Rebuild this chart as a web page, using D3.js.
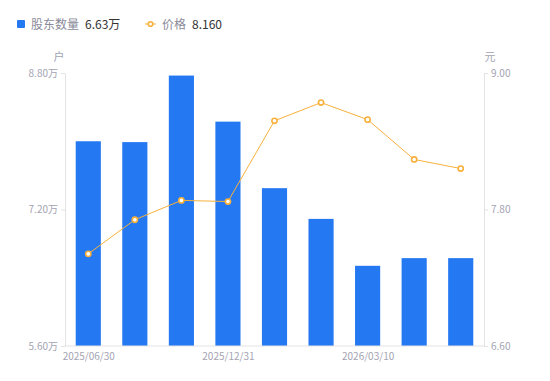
<!DOCTYPE html>
<html lang="zh">
<head>
    <meta charset="UTF-8">
    <title>股东数量</title>
    <script src="https://d3js.org/d3.v7.min.js"></script>
    <style>
        body { margin: 0; background: #fff; }
        text { font-family: "Noto Sans CJK SC", "Noto Sans", sans-serif; }
    </style>
</head>
<body>
<div id="fig"></div>
<script>
    // data
    let dates = ["2025/06/30","2025/09/30","2025/11/30","2025/12/31","2026/01/20","2026/02/28","2026/03/10","2026/03/20","2026/03/31"]
    let shownDates = ["2025/06/30","2025/12/31","2026/03/10"]
    let holders = [8.00, 7.99, 8.77, 8.23, 7.45, 7.09, 6.54, 6.63, 6.63]   // 万户
    let price = [7.41, 7.71, 7.88, 7.87, 8.58, 8.74, 8.59, 8.24, 8.16]     // 元
    let leftTicks = [5.6, 7.2, 8.8]
    let rightTicks = [6.6, 7.8, 9.0]

    let w = 550, h = 381
    let m = {top: 73, right: 66, bottom: 35, left: 65}
    let blue = "#2478f2", orange = "#f8b13c", axisCol = "#e3e3e3", tickText = "#a3a3b3"

    let svg = d3.select("#fig").append("svg")
        .attr("width", w).attr("height", h)

    let x = d3.scaleBand().domain(dates).range([m.left, w - m.right]).paddingInner(0.46).paddingOuter(0.23)
    let xp = d3.scalePoint().domain(dates).range([m.left, w - m.right]).padding(0.5)
    let yL = d3.scaleLinear().domain([5.6, 8.8]).range([h - m.bottom, m.top])
    let yR = d3.scaleLinear().domain([6.6, 9.0]).range([h - m.bottom, m.top])

    // bars
    svg.append("g").selectAll("rect").data(holders).join("rect")
        .attr("x", (d, i) => x(dates[i]))
        .attr("y", d => yL(d))
        .attr("width", x.bandwidth())
        .attr("height", d => yL(5.6) - yL(d))
        .attr("fill", blue)

    // axes
    function styleAxis(g) {
        g.selectAll("path").attr("stroke", axisCol)
        g.selectAll("line").attr("stroke", axisCol)
        g.selectAll("text").attr("fill", tickText).attr("font-size", 10)
    }
    svg.append("g").attr("transform", `translate(${m.left},0)`)
        .call(d3.axisLeft(yL).tickValues(leftTicks).tickSize(4).tickSizeOuter(0).tickFormat(d => d3.format(".2f")(d) + "万"))
        .call(styleAxis)
    svg.append("g").attr("transform", `translate(${w - m.right},0)`)
        .call(d3.axisRight(yR).tickValues(rightTicks).tickSize(4).tickSizeOuter(0).tickFormat(d3.format(".2f")))
        .call(styleAxis)
    let xa = svg.append("g").attr("transform", `translate(0,${h - m.bottom})`)
        .call(d3.axisBottom(xp).tickValues(shownDates).tickSize(0).tickPadding(7))
        .call(styleAxis)
    xa.select("path").attr("d", `M${m.left},0H${w - m.right}`)

    // units
    svg.append("text").attr("x", 59).attr("y", 61).attr("text-anchor", "middle")
        .attr("fill", tickText).attr("font-size", 11).text("户")
    svg.append("text").attr("x", 490).attr("y", 61).attr("text-anchor", "middle")
        .attr("fill", tickText).attr("font-size", 11).text("元")

    // price line
    let line = d3.line().x((d, i) => xp(dates[i])).y(d => yR(d))
    svg.append("path").datum(price).attr("d", line)
        .attr("fill", "none").attr("stroke", orange).attr("stroke-width", 1)
    svg.append("g").selectAll("circle").data(price).join("circle")
        .attr("cx", (d, i) => xp(dates[i])).attr("cy", d => yR(d)).attr("r", 2.6)
        .attr("fill", "#fff").attr("stroke", orange).attr("stroke-width", 1.6)

    // legend
    let lg = svg.append("g").attr("font-size", 12)
    lg.append("rect").attr("x", 17).attr("y", 20).attr("width", 8).attr("height", 8).attr("rx", 1).attr("fill", blue)
    lg.append("text").attr("x", 31).attr("y", 28.5).attr("fill", "#8a8a99").text("股东数量")
    lg.append("text").attr("x", 85).attr("y", 28.5).attr("fill", "#333").text(d3.format(".2f")(holders[holders.length - 1]) + "万")
    lg.append("line").attr("x1", 145).attr("x2", 156).attr("y1", 24).attr("y2", 24).attr("stroke", orange)
    lg.append("circle").attr("cx", 150.5).attr("cy", 24).attr("r", 2.3).attr("fill", "#fff").attr("stroke", orange).attr("stroke-width", 1.6)
    lg.append("text").attr("x", 162).attr("y", 28.5).attr("fill", "#8a8a99").text("价格")
    lg.append("text").attr("x", 192).attr("y", 28.5).attr("fill", "#333").text(d3.format(".3f")(price[price.length - 1]))
</script>
</body>
</html>
